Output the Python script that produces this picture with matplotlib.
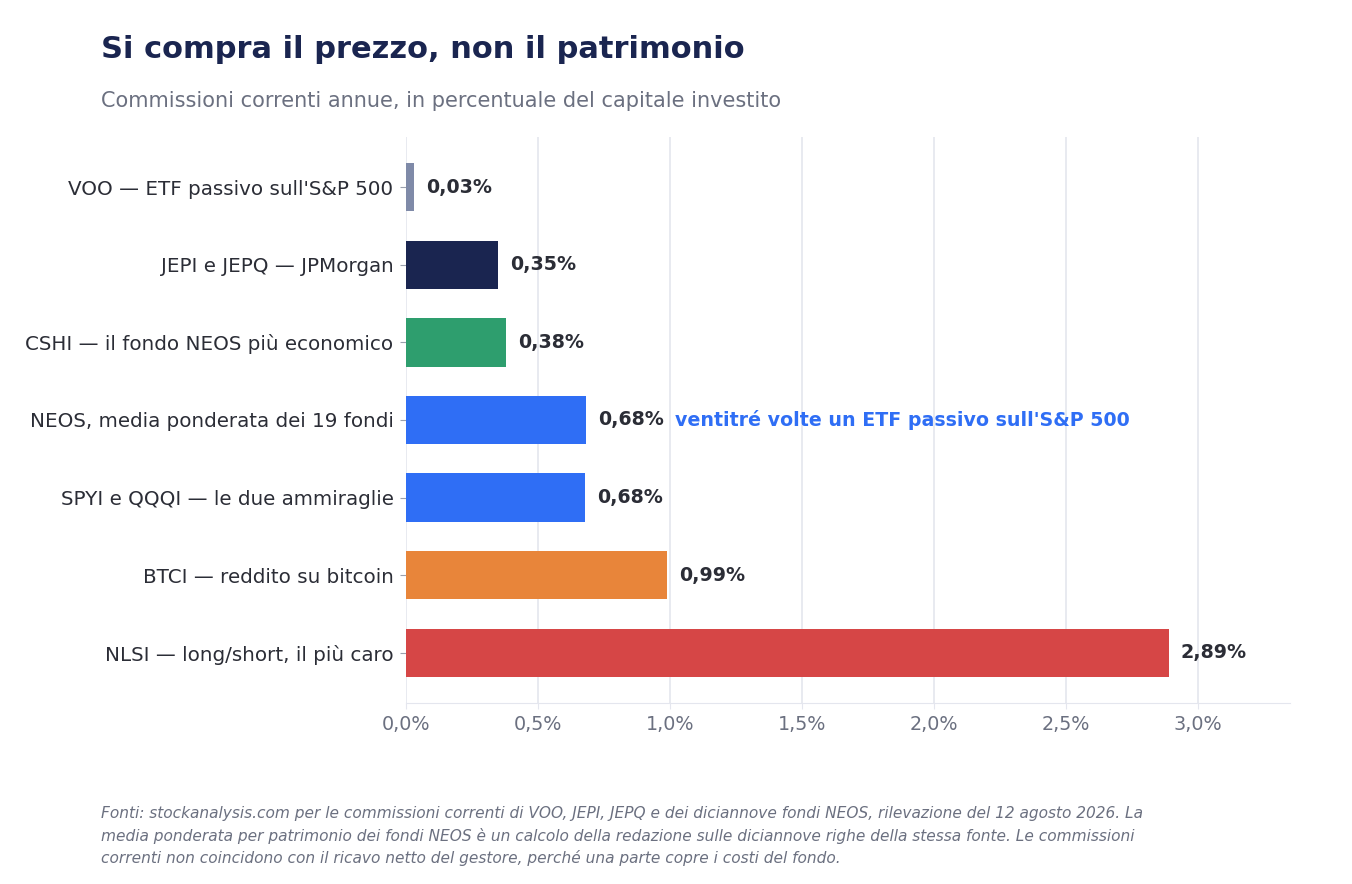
import matplotlib.pyplot as plt
from matplotlib.ticker import FuncFormatter

labels = [
    "VOO — ETF passivo sull'S&P 500",
    "JEPI e JEPQ — JPMorgan",
    "CSHI — il fondo NEOS più economico",
    "NEOS, media ponderata dei 19 fondi",
    "SPYI e QQQI — le due ammiraglie",
    "BTCI — reddito su bitcoin",
    "NLSI — long/short, il più caro",
]
values = [0.03, 0.35, 0.38, 0.683, 0.68, 0.99, 2.89]
value_labels = ["0,03%", "0,35%", "0,38%", "0,68%", "0,68%", "0,99%", "2,89%"]
colors = ["#7f8aa8", "#1a2550", "#2e9e6e", "#2f6ef5", "#2f6ef5", "#e8853a", "#d64646"]
x_ticks = [0.0, 0.5, 1.0, 1.5, 2.0, 2.5, 3.0]
note = "ventitré volte un ETF passivo sull'S&P 500"

title_c = "#1a2550"
text_c = "#2b2d36"
grey_c = "#6b7080"
grid_c = "#e4e6ee"

fig = plt.figure(figsize=(13.52, 8.84), dpi=100)
ax = fig.add_axes([406 / 1352, 1 - 703 / 884, (1290 - 406) / 1352, (703 - 137) / 884])

y = list(range(len(labels)))
ax.barh(y, values, height=0.62, color=colors, zorder=3)
ax.set_ylim(len(labels) - 0.35, -0.65)
ax.set_xlim(0, 3.35)

for yi, v, t in zip(y, values, value_labels):
    ax.text(v + 0.045, yi, t, va="center", ha="left", fontsize=13.7,
            fontweight="bold", color=text_c)
ax.text(values[3] + 0.337, 3, note, va="center", ha="left", fontsize=13.7,
        fontweight="bold", color="#2f6ef5")

ax.set_yticks(y)
ax.set_yticklabels(labels, fontsize=14.3, color=text_c)
ax.set_xticks(x_ticks)
ax.xaxis.set_major_formatter(FuncFormatter(lambda v, p: f"{v:.1f}%".replace(".", ",")))
ax.tick_params(axis="x", labelsize=13.8, labelcolor=grey_c, color=grid_c, length=4, pad=4.5)
ax.tick_params(axis="y", color="#9aa0ad", length=4, pad=5)
ax.grid(axis="x", color=grid_c, linewidth=1.2, zorder=0)
for s in ["top", "right", "left"]:
    ax.spines[s].set_visible(False)
ax.spines["bottom"].set_color(grid_c)

fig.text(101 / 1352, 1 - 49 / 884, "Si compra il prezzo, non il patrimonio",
         fontsize=22.0, fontweight="bold", color=title_c, va="center")
fig.text(101 / 1352, 1 - 101 / 884, "Commissioni correnti annue, in percentuale del capitale investito",
         fontsize=15.0, color=grey_c, va="center")
fig.text(101 / 1352, 1 - 836 / 884,
         "Fonti: stockanalysis.com per le commissioni correnti di VOO, JEPI, JEPQ e dei diciannove fondi NEOS, rilevazione del 12 agosto 2026. La\n"
         "media ponderata per patrimonio dei fondi NEOS è un calcolo della redazione sulle diciannove righe della stessa fonte. Le commissioni\n"
         "correnti non coincidono con il ricavo netto del gestore, perché una parte copre i costi del fondo.",
         fontsize=11.06, style="italic", color=grey_c, va="center", linespacing=1.5)

fig.savefig("out.png", dpi=100, facecolor="white")
